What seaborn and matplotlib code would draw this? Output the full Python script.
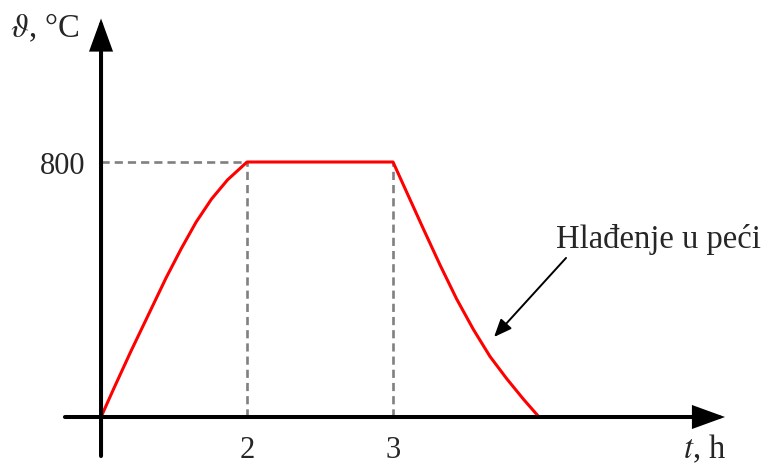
"""Heat treatment schedule: heating, holding at 800 °C, furnace cooling."""
import numpy as np
import pandas as pd
import matplotlib
matplotlib.use('Agg')
import matplotlib.pyplot as plt
import seaborn as sns

# heating segment (t in h, temperature in °C)
heat_t = [0.0, 0.178, 0.411, 0.641, 0.890, 1.096, 1.301, 1.514, 1.733, 2.0]
heat_T = [0, 91, 207, 317, 436, 527, 611, 684, 744, 800]
# holding at constant temperature
hold_t = [2.0, 3.0]
hold_T = [800, 800]
# cooling in the furnace
cool_t = [3.0, 3.094, 3.208, 3.322, 3.436, 3.550, 3.664, 3.779, 3.893, 4.0]
cool_T = [800, 705, 590, 477, 370, 275, 190, 120, 56, 0]

x_ticks = [2, 3]
y_ticks = [800]
x_label = r'$t$, h'
y_label = r'$\vartheta$, °C'
note = 'Hlađenje u peći'

sns.set_style('white')
plt.rcParams['font.family'] = ['Liberation Serif', 'DejaVu Serif']
plt.rcParams['mathtext.fontset'] = 'stix'
FS_TICK = 22
FS_TEXT = 23.5

df = pd.DataFrame({
    't': heat_t + hold_t[1:] + cool_t[1:],
    'T': heat_T + hold_T[1:] + cool_T[1:],
})

# schematic time axis: heating stretch drawn at half scale
t_break = heat_t[-1]


def fwd(t):
    t = np.asarray(t, dtype=float)
    return np.where(t <= t_break, t / t_break, t - t_break + 1)


def inv(u):
    u = np.asarray(u, dtype=float)
    return np.where(u <= 1, u * t_break, u + t_break - 1)


fig = plt.figure(figsize=(7.64, 4.64), dpi=100)
ax = fig.add_axes([0, 0, 1, 1])
ax.set_xscale('function', functions=(fwd, inv))

# guide lines
ax.hlines(hold_T[0], 0, hold_t[0], colors='#808080', lw=1.9, linestyles=(0, (3.1, 1.9)))
ax.vlines(x_ticks, 0, hold_T[0], colors='#808080', lw=1.9, linestyles=(0, (3.1, 1.9)))

sns.lineplot(data=df, x='t', y='T', sort=False, estimator=None,
             color='#ff0000', lw=2.2, ax=ax, zorder=3)

ax.set_xlim(-1.384, 5.541)
ax.set_ylim(-144.3, 1311.4)

for side in ['top', 'right']:
    ax.spines[side].set_visible(False)
ax.spines['left'].set_position(('data', 0))
ax.spines['bottom'].set_position(('data', 0))
ax.spines['left'].set_visible(False)
ax.spines['bottom'].set_visible(False)

ax.set_xticks(x_ticks)
ax.set_xticklabels([str(v) for v in x_ticks])
ax.set_yticks(y_ticks)
ax.set_yticklabels([str(v) for v in y_ticks])
ax.tick_params(axis='x', length=0, pad=13, labelsize=FS_TICK)
ax.tick_params(axis='y', length=0, pad=11, labelsize=FS_TICK)
ax.set_xlabel('')
ax.set_ylabel('')

# axes with arrow heads
axis_arrow = dict(arrowstyle='-|>,head_length=0.55,head_width=0.2', mutation_scale=33,
                  lw=2.9, color='black', shrinkA=0, shrinkB=0, joinstyle='miter')
ax.annotate('', xy=(0.949, 0), xytext=(0.085, 0),
            xycoords=('axes fraction', 'data'), arrowprops=axis_arrow, zorder=4)
ax.annotate('', xy=(0, 0.958), xytext=(0, 0.015),
            xycoords=('data', 'axes fraction'), arrowprops=axis_arrow, zorder=4)

# furnace cooling note
ax.annotate('', xy=(3.692, 251), xytext=(4.185, 499),
            arrowprops=dict(arrowstyle='-|>,head_length=0.6,head_width=0.25',
                            mutation_scale=18, lw=1.4, color='black',
                            shrinkA=0, shrinkB=0))
ax.text(4.116, 533, note, fontsize=FS_TEXT, va='baseline', ha='left')

fig.text(10 / 764, 1 - 37 / 464, y_label, fontsize=FS_TEXT, va='baseline', ha='left')
fig.text(683 / 764, 1 - 458 / 464, x_label, fontsize=FS_TEXT, va='baseline', ha='left')

fig.savefig('out.png', dpi=100)
